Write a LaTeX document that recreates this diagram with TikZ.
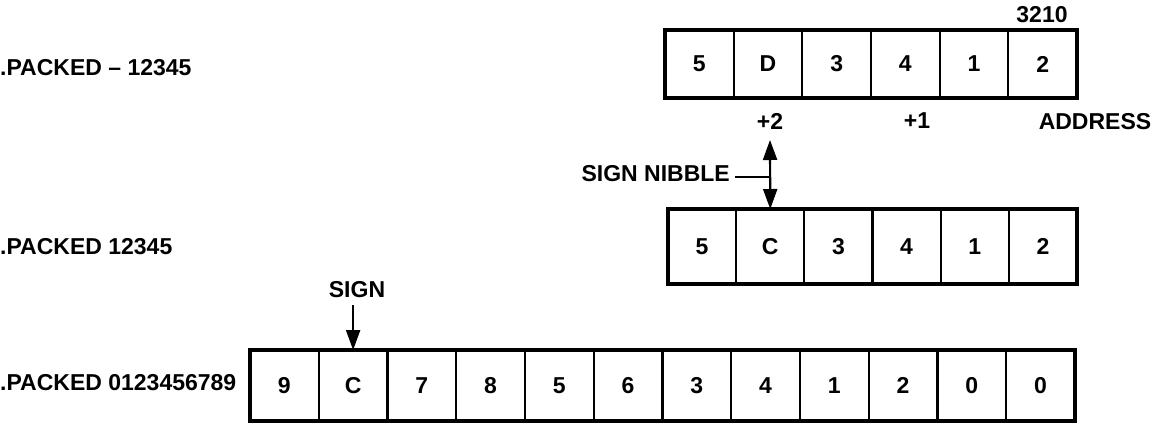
\documentclass[tikz,border=0pt]{standalone}
\usepackage{fontspec}
\setmainfont{Liberation Sans}
\usetikzlibrary{arrows.meta}
\begin{document}
\begin{tikzpicture}[x=1pt,y=-1pt,
  txt/.style={font=\bfseries\fontsize{23}{27}\selectfont, inner sep=0pt},
  cell/.style={txt, draw, line width=2.2pt, outer sep=0pt, anchor=north west},
  toprow/.style={cell, minimum width=68.67pt, minimum height=68pt},
  midrow/.style={cell, minimum width=68.17pt, minimum height=75pt},
  lowrow/.style={cell, minimum width=68.75pt, minimum height=71pt},
  frame/.style={draw, line width=3.8pt},
  arr/.style={line width=2.2pt, -{Triangle[length=20pt,width=14pt]}},
  dblarr/.style={line width=2.2pt, {Triangle[length=20pt,width=14pt]}-{Triangle[length=20pt,width=14pt]}}]
\useasboundingbox (0,0) rectangle (1153,424);

% left-hand labels
\node[txt, anchor=west] (l1) at (0,68) {.PACKED -- 12345};
\node[txt, anchor=west] (l2) at (0,247) {.PACKED 12345};
\node[txt, anchor=west] (l3) at (0,383) {.PACKED 0123456789};

% negative value: six nibbles
\foreach \v [count=\i from 0] in {5,D,3,4,1,2}
  \node[toprow] (t\i) at ({665+68.67*\i},30) {\v};
\draw[frame] (t0.north west) rectangle (t5.south east);
\node[txt] (a0) at (1042,15) {3210};
\node[txt] (a2) at (770,121) {+2};
\node[txt] (a1) at (917,121) {+1};
\node[txt] (addr) at (1095,122) {ADDRESS};

% positive value: six nibbles
\foreach \v [count=\i from 0] in {5,C,3,4,1,2}
  \node[midrow] (m\i) at ({668+68.17*\i},209) {\v};
\draw[frame] (m0.north west) rectangle (m5.south east);

% sign nibble pointer
\coordinate (snTop) at (770,140);
\draw[dblarr] (snTop) -- (m1.north);
\node[txt, anchor=east] (sn) at (730,174) {SIGN NIBBLE};
\coordinate (snJoin) at (770,177);
\draw[line width=2.2pt] ([shift={(5pt,-3pt)}]sn.east) -- (snJoin);

% ten-digit value: twelve nibbles
\foreach \v [count=\i from 0] in {9,C,7,8,5,6,3,4,1,2,0,0}
  \node[lowrow] (b\i) at ({250+68.75*\i},350) {\v};
\draw[frame] (b0.north west) rectangle (b11.south east);

% sign pointer
\node[txt] (sg) at (357,290) {SIGN};
\draw[arr] ([yshift=-7pt]sg.south -| b1.north) -- (b1.north);
\end{tikzpicture}
\end{document}
